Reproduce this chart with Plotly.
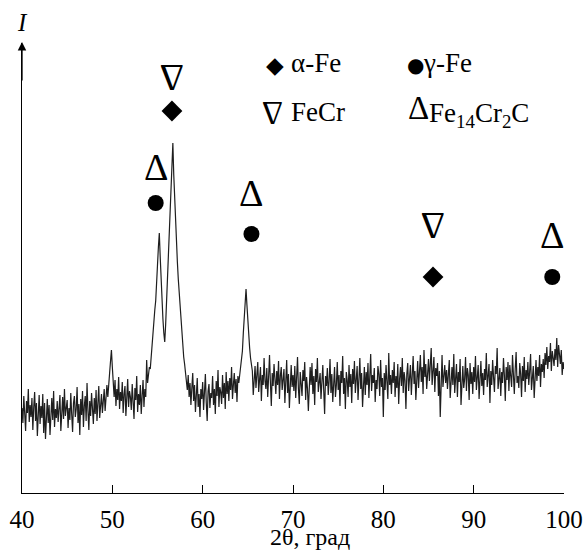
import plotly.graph_objects as go

# ---------------- data ----------------
theta_start = 40.0
theta_step = 0.1
intensity = [
    85, 70, 97, 78, 62, 92, 80, 104, 71, 88,
    76, 95, 63, 86, 101, 72, 90, 57, 83, 98,
    69, 87, 75, 99, 60, 90, 54, 82, 94, 70,
    88, 58, 79, 95, 73, 102, 66, 84, 75, 92,
    71, 89, 98, 62, 80, 96, 74, 104, 77, 86,
    93, 65, 85, 73, 100, 79, 61, 90, 97, 76,
    84, 106, 70, 89, 58, 94, 78, 102, 66, 87,
    97, 72, 110, 82, 63, 92, 77, 100, 86, 69,
    95, 79, 103, 72, 90, 107, 75, 88, 99, 80,
    90, 104, 82, 99, 108, 96, 113, 120, 132, 143,
    126, 109, 96, 113, 87, 104, 93, 116, 84, 101,
    92, 111, 80, 99, 107, 77, 95, 114, 86, 102,
    96, 83, 109, 90, 74, 105, 93, 117, 81, 99,
    88, 108, 79, 97, 113, 86, 104, 96, 133, 110,
    118, 126, 124, 138, 150, 160, 172, 183, 192, 206,
    228, 246, 260, 236, 212, 192, 174, 160, 151, 168,
    190, 211, 233, 253, 278, 305, 330, 350, 318, 292,
    268, 250, 231, 214, 200, 187, 176, 160, 147, 136,
    129, 121, 115, 103, 118, 96, 110, 88, 105, 120,
    92, 108, 81, 101, 115, 86, 99, 76, 104, 94,
    111, 83, 98, 119, 90, 72, 102, 109, 85, 100,
    95, 117, 88, 104, 79, 112, 97, 123, 86, 106,
    101, 89, 118, 95, 110, 84, 121, 99, 112, 92,
    115, 103, 126, 94, 108, 120, 100, 114, 91, 117,
    110, 118, 124, 134, 142, 160, 180, 196, 204, 188,
    171, 158, 145, 135, 124, 122, 98, 116, 127, 105,
    119, 131, 101, 113, 126, 92, 118, 108, 135, 112,
    104, 125, 96, 116, 138, 110, 87, 120, 107, 129,
    115, 99, 122, 108, 132, 94, 117, 126, 103, 111,
    124, 90, 113, 133, 100, 119, 85, 112, 128, 106,
    118, 102, 127, 95, 111, 136, 104, 89, 121, 109,
    97, 123, 112, 131, 93, 116, 105, 82, 114, 126,
    108, 130, 99, 117, 88, 124, 111, 135, 101, 115,
    120, 94, 113, 128, 103, 79, 117, 107, 125, 98,
    112, 134, 100, 119, 91, 114, 126, 96, 108, 131,
    103, 118, 87, 122, 110, 137, 99, 115, 84, 121,
    113, 96, 128, 106, 119, 90, 124, 109, 132, 100,
    117, 127, 93, 111, 135, 104, 120, 86, 114, 126,
    98, 121, 108, 130, 95, 116, 139, 102, 118, 110,
    125, 91, 113, 104, 127, 119, 97, 133, 106, 115,
    76, 120, 103, 128, 112, 94, 140, 108, 118, 99,
    123, 110, 131, 96, 117, 105, 129, 89, 114, 126,
    107, 135, 100, 121, 113, 84, 119, 130, 102, 116,
    128, 98, 114, 137, 109, 122, 93, 118, 132, 105,
    119, 138, 111, 126, 99, 143, 116, 129, 104, 124,
    134, 112, 127, 145, 108, 121, 136, 101, 125, 117,
    130, 97, 122, 76, 115, 138, 106, 119, 128, 110,
    123, 104, 117, 133, 95, 113, 126, 108, 139, 100,
    118, 129, 96, 121, 111, 134, 88, 116, 127, 105,
    114, 136, 102, 125, 118, 93, 130, 109, 121, 99,
    126, 111, 137, 103, 119, 128, 94, 115, 132, 107,
    120, 98, 124, 113, 140, 106, 117, 129, 90, 122,
    108, 133, 116, 101, 127, 119, 145, 104, 114, 125,
    97, 121, 110, 135, 118, 92, 126, 113, 131, 102,
    128, 115, 106, 138, 120, 99, 124, 141, 110, 117,
    105, 130, 119, 96, 127, 112, 136, 101, 123, 114,
    131, 108, 122, 139, 103, 118, 127, 95, 120, 133,
    112, 126, 117, 138, 106, 129, 121, 134, 115, 140,
    128, 146, 124, 137, 131, 150, 122, 142, 135, 127,
    144, 133, 155, 126, 148, 138, 129, 143, 118, 131,
    124,
]
two_theta = [round(theta_start + i * theta_step, 2) for i in range(len(intensity))]

# phase identification markers (2theta, height)
alpha_fe_2theta = [56.6, 85.5]
alpha_fe_h = [382, 216]
gamma_fe_2theta = [54.8, 65.4, 98.7]
gamma_fe_h = [290, 259, 216]
fecr_2theta = [56.6, 85.5]
fecr_h = [415, 267]
carbide_2theta = [54.8, 65.4, 98.7]
carbide_h = [326, 300, 258]

x_ticks = [40, 50, 60, 70, 80, 90, 100]

# ---------------- figure ----------------
SERIF = "Liberation Serif, Times New Roman, serif"
W, H = 586, 550
ML, MR, MT, MB = 22, 22, 43, 57
PW, PH = W - ML - MR, H - MT - MB


def px(xp):
    return (xp - ML) / PW


def py(yp):
    return (H - MB - yp) / PH


fig = go.Figure()
fig.add_trace(go.Scatter(x=two_theta, y=intensity, mode="lines",
                         line=dict(color="#1e1e1e", width=1.2), showlegend=False,
                         hoverinfo="skip"))
fig.add_trace(go.Scatter(x=alpha_fe_2theta, y=alpha_fe_h, mode="markers",
                         marker=dict(symbol="diamond", size=16, color="black"),
                         showlegend=False, cliponaxis=False, hoverinfo="skip"))
fig.add_trace(go.Scatter(x=gamma_fe_2theta, y=gamma_fe_h, mode="markers",
                         marker=dict(symbol="circle", size=16, color="black"),
                         showlegend=False, cliponaxis=False, hoverinfo="skip"))

ann = []
TRI_FONT = dict(family=SERIF, size=38, color="black")
for xv, yv in zip(fecr_2theta, fecr_h):
    ann.append(dict(x=xv, y=yv, xref="x", yref="y", text="Δ", textangle=180,
                    font=TRI_FONT, showarrow=False))
for xv, yv in zip(carbide_2theta, carbide_h):
    ann.append(dict(x=xv, y=yv, xref="x", yref="y", text="Δ",
                    font=TRI_FONT, showarrow=False))

leg = []
LEG_FONT = dict(family=SERIF, size=27, color="black")
SYM_FONT = dict(family=SERIF, size=33, color="black")
leg.append(dict(x=px(275), y=py(65), text="◆", font=dict(family="DejaVu Sans", size=23, color="black")))
leg.append(dict(x=px(289), y=py(63), text="α-Fe", xanchor="left", font=LEG_FONT))
leg.append(dict(x=px(415), y=py(65), text="●", font=dict(family="DejaVu Sans", size=20, color="black")))
leg.append(dict(x=px(421), y=py(63), text="γ-Fe", xanchor="left", font=LEG_FONT))
leg.append(dict(x=px(273), y=py(113), text="Δ", textangle=180, font=SYM_FONT))
leg.append(dict(x=px(289), y=py(112), text="FeCr", xanchor="left", font=LEG_FONT))
leg.append(dict(x=px(418), y=py(108), text="Δ", font=SYM_FONT))
leg.append(dict(x=px(427), y=py(115), text="Fe<sub>14</sub>Cr<sub>2</sub>C", xanchor="left", font=LEG_FONT))
# axis labels
leg.append(dict(x=px(22), y=py(22), text="<i>I</i>", font=dict(family=SERIF, size=25, color="black")))
leg.append(dict(x=px(310), y=py(537), text="2θ, град", font=dict(family=SERIF, size=24, color="black")))
for a in leg:
    a.update(xref="paper", yref="paper", showarrow=False)
    a.setdefault("xanchor", "center")
    a.setdefault("yanchor", "middle")
ann += leg
# y-axis arrow
ann.append(dict(x=0, y=py(42), xref="paper", yref="paper", ax=0, ay=40, text="",
                showarrow=True, arrowhead=2, arrowsize=1.3, arrowwidth=1.3, arrowcolor="black"))

fig.update_layout(
    width=W, height=H,
    margin=dict(l=ML, r=MR, t=MT, b=MB, pad=0),
    plot_bgcolor="white", paper_bgcolor="white",
    annotations=ann,
    showlegend=False,
    xaxis=dict(range=[40, 100], tickvals=x_ticks, ticktext=[str(t) for t in x_ticks],
               ticks="inside", ticklen=8, tickwidth=1.3, tickcolor="black",
               showline=True, linecolor="black", linewidth=1.3, showgrid=False, zeroline=False,
               tickfont=dict(family=SERIF, size=25, color="black"), ticklabelstandoff=4,
               automargin=False),
    yaxis=dict(range=[0, 450], showticklabels=False, ticks="", showline=True,
               linecolor="black", linewidth=1.3, showgrid=False, zeroline=False),
)

fig.write_html("out.html", config={"displayModeBar": False},
               post_script="document.body.style.margin='0';")
